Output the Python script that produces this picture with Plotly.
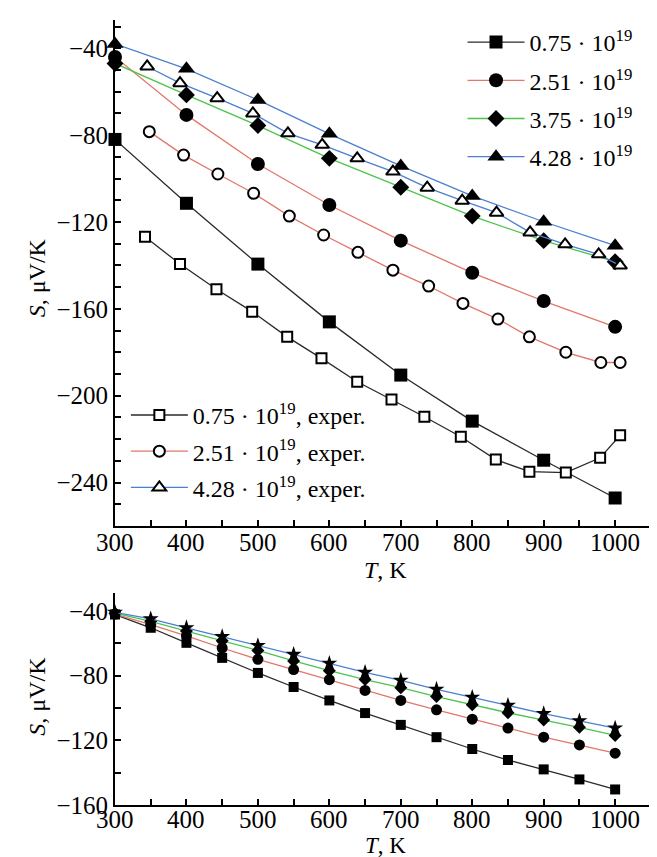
import plotly.graph_objects as go

# ---------------- data ----------------
T_calc = [300, 400, 500, 600, 700, 800, 900, 1000]
S075_calc = [-82, -111.4, -139.4, -166, -190.5, -211.7, -229.7, -247.1]
S251_calc = [-44, -70.7, -93.3, -112.2, -128.6, -143.4, -156.4, -168.3]
S375_calc = [-47, -61.5, -75.6, -90.7, -104, -117.3, -128.6, -138.3]
S428_calc = [-38, -49.5, -63.8, -79.4, -94.2, -108, -119.9, -130.9]

T075_exp = [342, 391, 442, 492, 541, 589, 639, 687, 733, 784, 833, 880, 931, 979, 1007]
S075_exp = [-126.8, -139.4, -151, -161.3, -172.9, -182.8, -193.6, -201.7, -209.7,
            -218.9, -229.4, -235, -235.4, -228.6, -218.2]
T251_exp = [348, 396, 444, 494, 544, 592, 640, 689, 739, 787, 836, 880, 931, 980, 1007]
S251_exp = [-78.4, -89.2, -97.9, -106.8, -117.3, -126, -134, -142.2, -149.5,
            -157.5, -164.7, -172.9, -180, -184.7, -184.7]
T428_exp = [345, 391, 443, 493, 542, 590, 639, 689, 737, 786, 834, 881, 930, 977, 1007]
S428_exp = [-48.4, -56.1, -63, -70, -79.2, -84.5, -90.7, -96.8, -104.2, -110.2,
            -115.7, -124.8, -130.3, -134.9, -140.1]

T_b = [300, 350, 400, 450, 500, 550, 600, 650, 700, 750, 800, 850, 900, 950, 1000]
Sb075 = [-42.3, -50.5, -59.8, -69.1, -78.4, -87.1, -95.4, -103.2, -110.5, -118.1,
         -125.4, -132.2, -138, -144.2, -150.4]
Sb251 = [-42, -48.5, -55.5, -63, -70, -76.3, -82.6, -89.2, -95.4, -101.2, -107,
         -112.5, -118.1, -122.9, -128]
Sb375 = [-41.5, -46.5, -52.5, -58.5, -64.5, -71, -77, -82.5, -87.5, -93, -98, -103,
         -107.5, -112, -117]
Sb428 = [-41, -45, -50.5, -56, -61.5, -67, -72.5, -78, -83, -88.5, -93.5, -98.5,
         -103.5, -108, -112.5]

x_tickvals = [300, 400, 500, 600, 700, 800, 900, 1000]
x_ticktext = ["300", "400", "500", "600", "700", "800", "900", "1000"]

names_calc = ["0.75 · 10<sup>19</sup>", "2.51 · 10<sup>19</sup>",
              "3.75 · 10<sup>19</sup>", "4.28 · 10<sup>19</sup>"]
names_exp = ["0.75 · 10<sup>19</sup>, exper.", "2.51 · 10<sup>19</sup>, exper.",
             "4.28 · 10<sup>19</sup>, exper."]

# ---------------- styles ----------------
BLACK = "#2a2a2a"
RED = "#e2776a"
GREEN = "#4cc44c"
BLUE = "#4a7fd2"
FONT = "Liberation Serif, Times New Roman, Times, serif"

fig = go.Figure()

def add(x, y, name, color, symbol, size, filled, xa, ya, legend="legend", show=True, lw=1.3):
    fig.add_trace(go.Scatter(
        x=x, y=y, name=name, mode="lines+markers",
        line=dict(color=color, width=lw),
        marker=dict(symbol=symbol, size=size,
                    color="black" if filled else "white",
                    line=dict(color="black", width=0 if filled else 2)),
        xaxis=xa, yaxis=ya, cliponaxis=False, legendgroup=name,
        showlegend=show, legend=legend))

# top panel, calculated
add(T_calc, S075_calc, names_calc[0], BLACK, "square", 13, True, "x", "y")
add(T_calc, S251_calc, names_calc[1], RED, "circle", 14, True, "x", "y")
add(T_calc, S375_calc, names_calc[2], GREEN, "diamond", 13, True, "x", "y")
add(T_calc, S428_calc, names_calc[3], BLUE, "triangle-up", 15, True, "x", "y")
# top panel, experiment
add(T075_exp, S075_exp, names_exp[0], BLACK, "square", 10, False, "x", "y", "legend2")
add(T251_exp, S251_exp, names_exp[1], RED, "circle", 11, False, "x", "y", "legend2")
add(T428_exp, S428_exp, names_exp[2], BLUE, "triangle-up", 12, False, "x", "y", "legend2")
# bottom panel
add(T_b, Sb075, "b075", BLACK, "square", 10, True, "x2", "y2", show=False)
add(T_b, Sb251, "b251", RED, "circle", 11, True, "x2", "y2", show=False)
add(T_b, Sb375, "b375", GREEN, "diamond", 10, True, "x2", "y2", show=False)
add(T_b, Sb428, "b428", BLUE, "star", 12, True, "x2", "y2", show=False)

axis_common = dict(showline=True, linecolor="black", linewidth=2, ticks="inside",
                   ticklen=6, tickwidth=1.5, tickcolor="black", showgrid=False,
                   zeroline=False, tickfont=dict(family=FONT, size=25, color="black"))
minor_common = dict(ticks="inside", ticklen=6, tickcolor="black", tickwidth=1.5)

TOP = [0.3554, 1.0]
BOT = [0.0, 0.2701]

fig.update_layout(
    width=657, height=857,
    margin=dict(l=107, r=7, t=12, b=60),
    paper_bgcolor="white", plot_bgcolor="white",
    font=dict(family=FONT, size=24, color="black"),
    xaxis=dict(domain=[0, 1], anchor="y", range=[300, 1060], tickvals=x_tickvals,
               showticklabels=False, minor=dict(dtick=50, tick0=300, **minor_common), **axis_common),
    yaxis=dict(domain=TOP, anchor="x", range=[-260, -27], tick0=-40, dtick=40,
               minor=dict(dtick=10, tick0=-40, **minor_common), **axis_common),
    xaxis2=dict(domain=[0, 1], anchor="y2", range=[300, 1060], tickvals=x_tickvals,
                showticklabels=False, minor=dict(dtick=50, tick0=300, **minor_common), **axis_common),
    yaxis2=dict(domain=BOT, anchor="x2", range=[-160, -29], tick0=-40, dtick=40,
                minor=dict(dtick=20, tick0=-40, **minor_common), **axis_common),
    legend=dict(x=0.64, y=1.0, xanchor="left", yanchor="top", bgcolor="rgba(0,0,0,0)",
                font=dict(family=FONT, size=24, color="black"), itemwidth=57,
                traceorder="grouped", tracegroupgap=4),
    legend2=dict(x=0.02, y=0.525, xanchor="left", yanchor="top", bgcolor="rgba(0,0,0,0)",
                 font=dict(family=FONT, size=24, color="black"), itemwidth=57,
                 traceorder="grouped", tracegroupgap=2),
    showlegend=True,
)

tick_font = dict(family=FONT, size=25, color="black")
for v, t in zip(x_tickvals, x_ticktext):
    fig.add_annotation(text=t, xref="x", yref="paper", x=v, y=0.334, showarrow=False,
                       font=tick_font, xanchor="center", yanchor="middle")
    fig.add_annotation(text=t, xref="x2", yref="paper", x=v, y=-0.019, showarrow=False,
                       font=tick_font, xanchor="center", yanchor="middle")

ann_font = dict(family=FONT, size=24, color="black")
fig.add_annotation(text="<i>T</i>, K", xref="paper", yref="paper", x=0.499, y=0.299,
                   showarrow=False, font=ann_font, xanchor="center", yanchor="middle")
fig.add_annotation(text="<i>T</i>, K", xref="paper", yref="paper", x=0.499, y=-0.0510,
                   showarrow=False, font=dict(family=FONT, size=23, color="black"),
                   xanchor="center", yanchor="middle")
fig.add_annotation(text="<i>S</i>, μV/K", xref="paper", yref="paper", x=-0.1436, y=0.671,
                   showarrow=False, font=ann_font, textangle=-90, xanchor="center", yanchor="middle")
fig.add_annotation(text="<i>S</i>, μV/K", xref="paper", yref="paper", x=-0.1436, y=0.138,
                   showarrow=False, font=ann_font, textangle=-90, xanchor="center", yanchor="middle")

fig.write_html("out.html")
